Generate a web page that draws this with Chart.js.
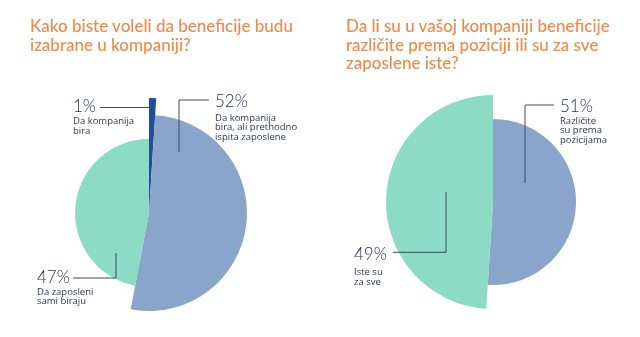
<!DOCTYPE html>
<html>
<head>
<meta charset="utf-8">
<script src="https://cdn.jsdelivr.net/npm/chart.js@4/dist/chart.umd.min.js"></script>
<style>
  html, body { margin: 0; padding: 0; background: #ffffff; }
  #wrap { position: relative; width: 640px; height: 337px; overflow: hidden; }
  canvas { position: absolute; top: 0; }
  .title { position: absolute; font-family: Lato, "Open Sans", sans-serif; font-weight: 500;
           font-size: 17px; line-height: 18.5px; color: #f0894a; white-space: nowrap; }
</style>
</head>
<body>
<div id="wrap">
  <canvas id="c1" width="320" height="337" style="left:0"></canvas>
  <canvas id="c2" width="320" height="337" style="left:320px"></canvas>
  <div class="title" id="t1" style="left:30px; top:17px;"></div>
  <div class="title" id="t2" style="left:346px; top:17px;"></div>
</div>
<script>
// ---- data ----
const title1 = ["Kako biste voleli da beneficije budu", "izabrane u kompaniji?"];
const categories1 = [["Da kompanija", "bira"], ["Da kompanija", "bira, ali prethodno", "ispita zaposlene"], ["Da zaposleni", "sami biraju"]];
const values1 = [1, 52, 47];

const title2 = ["Da li su u vašoj kompaniji beneficije", "različite prema poziciji ili su za sve", "zaposlene iste?"];
const categories2 = [["Različite", "su prema", "pozicijama"], ["Iste su", "za sve"]];
const values2 = [51, 49];

// ---- styles ----
const colors1 = ["#1f4f9c", "#8aa5ca", "#8cdbc4"];
const colors2 = ["#8aa5ca", "#8cdbc4"];
const radiusFactors1 = [1.0, 0.852, 0.643];
const radiusFactors2 = [0.776, 1.0];

document.getElementById('t1').innerHTML = title1.join('<br>');
document.getElementById('t2').innerHTML = title2.join('<br>');

// label layout: text position (x, baseline), leader polyline points (canvas-local)
const labels1 = [
  { tx: 73, ty: 112, sx: 73, sy: 124, lines: [[100, 107.5], [152, 107.5]] },
  { tx: 215, ty: 107, sx: 215, sy: 120.5, lines: [[209, 100], [179, 100], [179, 152]] },
  { tx: 37, ty: 283, sx: 37, sy: 294.5, lines: [[73, 278], [116, 278], [116, 253]] }
];
const labels2 = [
  { tx: 240, ty: 111.5, sx: 240, sy: 123.5, lines: [[234, 105], [205, 105], [205, 183]] },
  { tx: 34, ty: 260, sx: 34, sy: 275, lines: [[73, 252.3], [126, 252.3], [126, 192]] }
];

function makePlugin(factors, cats, vals, labels) {
  return {
    id: 'varRadius',
    beforeDatasetsDraw(chart) {
      const meta = chart.getDatasetMeta(0);
      const base = meta.controller.outerRadius;
      meta.data.forEach((arc, i) => { arc.outerRadius = base * factors[i]; });
    },
    afterDatasetsDraw(chart) {
      const ctx = chart.ctx;
      ctx.save();
      labels.forEach((l, i) => {
        ctx.strokeStyle = '#3a4a5e';
        ctx.lineWidth = 1;
        ctx.beginPath();
        l.lines.forEach((p, k) => { if (k === 0) ctx.moveTo(p[0], p[1]); else ctx.lineTo(p[0], p[1]); });
        ctx.stroke();
        ctx.fillStyle = '#1e2a4a';
        ctx.textAlign = 'left';
        ctx.textBaseline = 'alphabetic';
        ctx.font = '300 17px Lato, "Open Sans", sans-serif';
        ctx.fillText(vals[i] + '%', l.tx, l.ty);
        ctx.font = '400 9.5px "Open Sans", Lato, sans-serif';
        ctx.fillStyle = '#2a3650';
        cats[i].forEach((s, k) => ctx.fillText(s, l.sx, l.sy + k * 9.7));
      });
      ctx.restore();
    }
  };
}

function makeChart(id, vals, cols, factors, cats, labels, radius, padding) {
  return new Chart(document.getElementById(id), {
    type: 'pie',
    data: {
      labels: cats.map(c => c.join(' ')),
      datasets: [{ data: vals, backgroundColor: cols, borderWidth: 0, hoverOffset: 0 }]
    },
    options: {
      responsive: false,
      animation: false,
      radius: radius,
      layout: { padding: padding },
      plugins: { legend: { display: false }, tooltip: { enabled: false }, title: { display: false } },
      events: []
    },
    plugins: [makePlugin(factors, cats, vals, labels)]
  });
}

makeChart('c1', values1, colors1, radiusFactors1, categories1, labels1, 115,
  { left: 34, right: 56, top: 98, bottom: 9 });
makeChart('c2', values2, colors2, radiusFactors2, categories2, labels2, 107,
  { left: 66, right: 40, top: 95, bottom: 28 });
</script>
</body>
</html>
